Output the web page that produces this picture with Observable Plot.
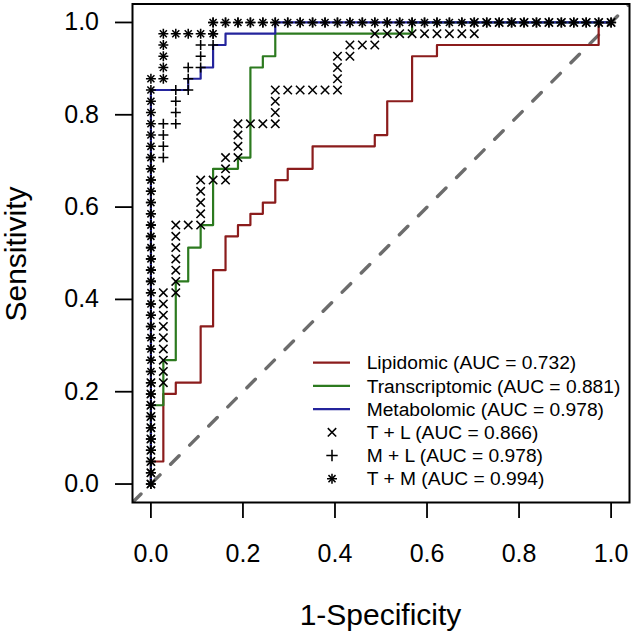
<!DOCTYPE html>
<html><head><meta charset="utf-8">
<script src="https://cdn.jsdelivr.net/npm/d3@7"></script>
<script src="https://cdn.jsdelivr.net/npm/@observablehq/plot@0.6"></script>
<style>body{margin:0;background:#fff}</style>
</head><body>
<div id="chart"></div>
<script>
// ---- data (counts of controls / cases) ----
const nNeg = 37;   // controls -> steps along 1-Specificity
const nPos = 41;   // cases    -> steps along Sensitivity
const tickValues = [0, 0.2, 0.4, 0.6, 0.8, 1.0];
const axisDomain = [-0.04, 1.04];
const seriesNames = ["Lipidomic", "Transcriptomic", "Metabolomic", "T + L", "M + L", "T + M"];
const aucValues = [0.732, 0.881, 0.978, 0.866, 0.978, 0.994];
const lineColors = ["#8b1c1c", "#2c7a1f", "#24249c"];

// step-curve vertices (false positives, true positives)
const lipFP = [0,0,1,1,2,2,4,4,5,5,6,6,7,7,8,8,9,9,10,10,11,11,13,13,18,18,19,19,21,21,23,23,36,36,37];
const lipTP = [0,2,2,8,8,9,9,14,14,19,19,22,22,23,23,24,24,25,25,27,27,28,28,30,30,31,31,34,34,38,38,39,39,41,41];
const traFP = [0,0,1,1,2,2,3,3,4,4,5,5,7,7,8,8,9,9,10,10,21,21,37];
const traTP = [0,7,7,11,11,18,18,21,21,23,23,28,28,29,29,37,37,38,38,40,40,41,41];
const metFP = [0,0,3,3,4,4,5,5,6,6,10,10,37];
const metTP = [0,35,35,36,36,37,37,39,39,40,40,41,41];

// point-by-point ROC of the combined models
const tlFP = [0,0,0,0,0,0,0,0,0,0, 1,1,1,1,1,1,1,1,1, 2,2,2,2,2,2,2, 3, 4,4,4,4,4, 5, 6,6,6, 7,7,7,7, 8, 9, 10,10,10,10, 11,12,13,14, 15,15,15,15, 16,16, 17, 18,18, 19,20,21,22,23,24,25, 26,26, 27,28,29,30,31,32,33,34,35,36,37];
const tlTP = [0,1,2,3,4,5,6,7,8,9, 9,10,11,12,13,14,15,16,17, 17,18,19,20,21,22,23, 23, 23,24,25,26,27, 27, 27,28,29, 29,30,31,32, 32, 32, 32,33,34,35, 35,35,35,35, 35,36,37,38, 38,39, 39, 39,40, 40,40,40,40,40,40,40, 40,41, 41,41,41,41,41,41,41,41,41,41,41];
const mlFP = [0,0,0,0,0,0,0,0,0,0,0,0,0,0,0,0,0,0,0,0,0,0,0,0,0,0,0,0,0,0, 1,1,1,1, 2,2,2,2, 3,3,3, 4,4,4, 5,5,5, 6,7,8,9,10,11,12,13,14,15,16,17,18,19,20,21,22,23,24,25,26,27,28,29,30,31,32,33,34,35,36,37];
const mlTP = [0,1,2,3,4,5,6,7,8,9,10,11,12,13,14,15,16,17,18,19,20,21,22,23,24,25,26,27,28,29, 29,30,31,32, 32,33,34,35, 35,36,37, 37,38,39, 39,40,41, 41,41,41,41,41,41,41,41,41,41,41,41,41,41,41,41,41,41,41,41,41,41,41,41,41,41,41,41,41,41,41,41];
const tmFP = [0,0,0,0,0,0,0,0,0,0,0,0,0,0,0,0,0,0,0,0,0,0,0,0,0,0,0,0,0,0,0,0,0,0,0,0,0, 1,1,1,1,1, 2,3,4,5, 5, 6,7,8,9,10,11,12,13,14,15,16,17,18,19,20,21,22,23,24,25,26,27,28,29,30,31,32,33,34,35,36,37];
const tmTP = [0,1,2,3,4,5,6,7,8,9,10,11,12,13,14,15,16,17,18,19,20,21,22,23,24,25,26,27,28,29,30,31,32,33,34,35,36, 36,37,38,39,40, 40,40,40,40, 41, 41,41,41,41,41,41,41,41,41,41,41,41,41,41,41,41,41,41,41,41,41,41,41,41,41,41,41,41,41,41,41,41];

// ---- build tables ----
const toPts = (fp, tp) => fp.map((f, i) => ({x: f / nNeg, y: tp[i] / nPos}));
const lip = toPts(lipFP, lipTP), tra = toPts(traFP, traTP), met = toPts(metFP, metTP);
const tl = toPts(tlFP, tlTP), ml = toPts(mlFP, mlTP), tm = toPts(tmFP, tmTP);

const font = "'Liberation Sans', Arial, Helvetica, sans-serif";
const rTimes = 3.9, rPlus = 3.35, rTmPlus = 3.3, rTmTimes = 3.3;
const dotStyle = {x: "x", y: "y", fill: "none", stroke: "black", strokeWidth: 1.55};

const chart = Plot.plot({
  width: 634, height: 638,
  marginLeft: 132, marginRight: 5, marginTop: 3.5, marginBottom: 136,
  style: {fontFamily: font, color: "black", background: "white", overflow: "visible"},
  x: {domain: axisDomain},
  y: {domain: axisDomain},
  marks: [
    Plot.line(axisDomain, {x: d => d, y: d => d, stroke: "#6c6c6c", strokeWidth: 3.4, strokeDasharray: "12,15", strokeLinecap: "round", clip: true}),
    Plot.line(lip, {x: "x", y: "y", stroke: lineColors[0], strokeWidth: 2.2}),
    Plot.line(tra, {x: "x", y: "y", stroke: lineColors[1], strokeWidth: 2.2}),
    Plot.line(met, {x: "x", y: "y", stroke: lineColors[2], strokeWidth: 2.2}),
    Plot.dot(tl, {...dotStyle, symbol: d3.symbolTimes, r: rTimes}),
    Plot.dot(ml, {...dotStyle, symbol: d3.symbolPlus, r: rPlus}),
    Plot.dot(tm, {...dotStyle, symbol: d3.symbolPlus, r: rTmPlus}),
    Plot.dot(tm, {...dotStyle, symbol: d3.symbolTimes, r: rTmTimes}),
    Plot.frame({stroke: "black", strokeWidth: 2}),
    Plot.axisX({ticks: tickValues, tickFormat: d3.format(".1f"), tickSize: 16, tickPadding: 26, fontSize: 25, strokeWidth: 1.8, label: null}),
    Plot.axisY({ticks: tickValues, tickFormat: d3.format(".1f"), tickSize: 17, tickPadding: 16.5, fontSize: 25, strokeWidth: 1.8, label: null})
  ]
});
document.getElementById("chart").appendChild(chart);

// ---- axis titles and legend ----
const svg = d3.select(chart);
svg.append("text").attr("x", 380.5).attr("y", 625).attr("text-anchor", "middle")
  .attr("font-size", 30).attr("font-family", font).attr("fill", "black").text("1-Specificity");
svg.append("text").attr("transform", "translate(25.5,254) rotate(-90)").attr("text-anchor", "middle")
  .attr("font-size", 30).attr("font-family", font).attr("fill", "black").text("Sensitivity");

const legendSymbols = [null, null, null, [[d3.symbolTimes, rTimes]], [[d3.symbolPlus, rPlus + 0.4]], [[d3.symbolPlus, rTmPlus], [d3.symbolTimes, rTmTimes]]];
const lg = svg.append("g").attr("font-size", 19.2).attr("font-family", font).attr("fill", "black").attr("text-anchor", "start");
seriesNames.forEach((name, k) => {
  const y = 362.7 + k * 23.2;
  if (k < 3) {
    lg.append("line").attr("x1", 313).attr("x2", 350).attr("y1", y).attr("y2", y)
      .attr("stroke", lineColors[k]).attr("stroke-width", 2.2);
  } else {
    legendSymbols[k].forEach(([type, r]) => {
      lg.append("path").attr("d", d3.symbol(type, Math.PI * r * r)())
        .attr("transform", `translate(332,${y})`).attr("fill", "none")
        .attr("stroke", "black").attr("stroke-width", 1.55);
    });
  }
  lg.append("text").attr("x", 366.7).attr("y", y).attr("dy", "0.35em").attr("text-anchor", "start")
    .text(`${name} (AUC = ${aucValues[k].toFixed(3)})`);
});
</script>
</body></html>
